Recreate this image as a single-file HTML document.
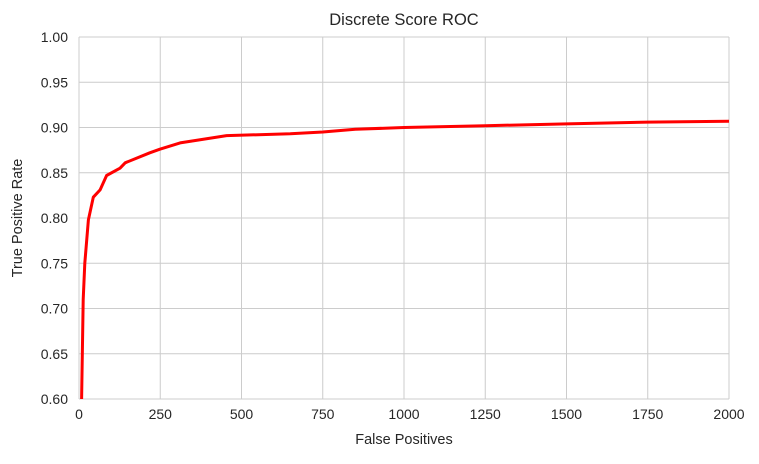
<!DOCTYPE html>
<html><head><meta charset="utf-8"><style>
body{margin:0;background:#fff;}
svg text{font-family:"Liberation Sans",sans-serif;fill:#262626;}
</style></head><body>
<svg width="759" height="459">
<g id="grid"></g>
<text x="404" y="25" text-anchor="middle" font-size="16.5">Discrete Score ROC</text>
<text x="404" y="444" text-anchor="middle" font-size="14.5">False Positives</text>
<text x="22" y="218" text-anchor="middle" font-size="14.5" transform="rotate(-90 22 218)">True Positive Rate</text>
<path id="curve" fill="none" stroke="#ff0000" stroke-width="3" stroke-linejoin="round"></path>
</svg>
<script>
const fpValues=[8,13,18,29,44,65,85,126,142,218,249,311,454,650,750,850,1000,1250,1500,1750,2000];
const tprValues=[0.60,0.71,0.75,0.798,0.823,0.831,0.847,0.855,0.861,0.872,0.876,0.883,0.891,0.893,0.895,0.898,0.900,0.902,0.904,0.906,0.907];
const xTicks=[0,250,500,750,1000,1250,1500,1750,2000];
const yTicks=[0.60,0.65,0.70,0.75,0.80,0.85,0.90,0.95,1.00];
const X0=79,X1=729,Y0=399,Y1=37;
const sx=v=>X0+v/2000*(X1-X0);
const sy=v=>Y0-(v-0.6)/0.4*(Y0-Y1);
const g=document.getElementById('grid');
const NS='http://www.w3.org/2000/svg';
function mk(t,a){const e=document.createElementNS(NS,t);for(const k in a)e.setAttribute(k,a[k]);return e;}
xTicks.forEach(v=>{
 const l=mk('line',{x1:sx(v),x2:sx(v),y1:Y1,y2:Y0,stroke:'#cccccc','stroke-width':1});
 
 
 g.appendChild(l);
 const t=mk('text',{x:sx(v),y:Y0+20,'text-anchor':'middle','font-size':14});
 t.textContent=v;
 
 
 g.appendChild(t);
});
yTicks.forEach(v=>{
 const l=mk('line',{x1:X0,x2:X1,y1:sy(v),y2:sy(v),stroke:'#cccccc','stroke-width':1});
 
 
 g.appendChild(l);
 const t=mk('text',{x:X0-11,y:sy(v)+5,'text-anchor':'end','font-size':14});
 t.textContent=v.toFixed(2);
 
 
 g.appendChild(t);
});
document.getElementById('curve').setAttribute('d',fpValues.map((v,i)=>(i?'L':'M')+sx(v).toFixed(1)+','+sy(tprValues[i]).toFixed(1)).join(''));
</script>
</body></html>
